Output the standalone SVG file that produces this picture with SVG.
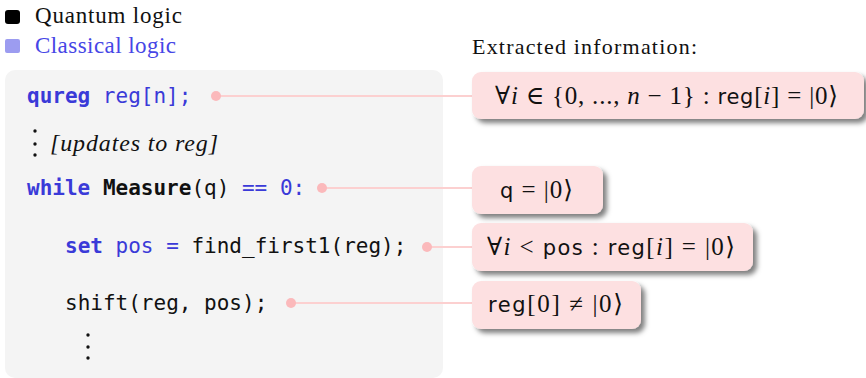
<svg xmlns="http://www.w3.org/2000/svg" width="866" height="378" viewBox="0 0 866 378">
<defs>
<filter id="sh" x="-10%" y="-20%" width="130%" height="160%">
<feDropShadow dx="4" dy="4" stdDeviation="2.5" flood-color="#000" flood-opacity="0.5"/>
</filter>
<style>
.code{font-family:"DejaVu Sans Mono","Liberation Mono",monospace;font-size:21px;fill:#111;}
.kw{fill:#3a3ad8;font-weight:bold;}
.bl{fill:#3a3ad8;}
.b{font-weight:bold;}
.serif{font-family:"Liberation Serif","DejaVu Serif",serif;}
.math{font-family:"Liberation Serif","DejaVu Serif",serif;font-size:25px;fill:#111;}
.sans{font-family:"DejaVu Sans","Liberation Sans",sans-serif;font-size:21px;}
.it{font-style:italic;}
.box{fill:#fde0e1;filter:url(#sh);}
.conn{stroke:#fcd0d0;stroke-width:2;fill:none;}
.dot{fill:#fbb9bb;}
</style>
</defs>
<rect width="866" height="378" fill="#fff"/>
<g id="legend">
<rect x="5" y="10" width="15" height="14" rx="3" fill="#000"/>
<text x="35" y="23" class="serif" font-size="23" fill="#111" textLength="147">Quantum logic</text>
<rect x="5" y="39" width="15" height="14" rx="2" fill="#9c9cf0"/>
<text x="35" y="53" class="serif" font-size="23" fill="#4646e6" textLength="141">Classical logic</text>
</g>
<text x="472" y="54" class="serif" font-size="22" fill="#111" textLength="225">Extracted information:</text>
<g id="code">
<rect x="5" y="70" width="438" height="308" rx="10" fill="#f4f4f4"/>
<text x="27" y="103" class="code"><tspan class="kw">qureg</tspan><tspan class="bl"> reg[n];</tspan></text>
<circle cx="35" cy="131" r="1.7" fill="#111"/>
<circle cx="35" cy="144" r="1.7" fill="#111"/>
<circle cx="35" cy="155" r="1.7" fill="#111"/>
<text x="50" y="151" class="serif it" font-size="24" fill="#111" textLength="168">[updates to reg]</text>
<text x="27" y="195" class="code"><tspan class="kw">while</tspan> <tspan class="b">Measure</tspan>(q) <tspan class="bl">== 0:</tspan></text>
<text x="65" y="253" class="code"><tspan class="kw">set</tspan><tspan class="bl"> pos =</tspan> find_first1(reg);</text>
<text x="65" y="310" class="code">shift(reg, pos);</text>
<circle cx="88" cy="335" r="1.7" fill="#111"/>
<circle cx="88" cy="347" r="1.7" fill="#111"/>
<circle cx="88" cy="358" r="1.7" fill="#111"/>
</g>
<g id="connectors">
<line class="conn" x1="216" y1="96" x2="473" y2="96"/>
<line class="conn" x1="322" y1="188" x2="473" y2="188"/>
<line class="conn" x1="427" y1="247" x2="473" y2="247"/>
<line class="conn" x1="291" y1="303" x2="473" y2="303"/>
<circle class="dot" cx="216" cy="96" r="5"/>
<circle class="dot" cx="322" cy="188" r="5"/>
<circle class="dot" cx="427" cy="247" r="5"/>
<circle class="dot" cx="291" cy="303" r="5"/>
</g>
<g id="info1">
<rect class="box" x="472" y="72" width="392" height="47" rx="9"/>
<text x="666.5" y="104" text-anchor="middle" class="math" textLength="343">∀<tspan class="it">i</tspan> ∈ {0, ..., <tspan class="it">n</tspan> − 1} : <tspan class="sans">reg</tspan>[<tspan class="it">i</tspan>] = |0⟩</text>
</g>
<g id="info2">
<rect class="box" x="472" y="166" width="131" height="48" rx="9"/>
<text x="536.5" y="198" text-anchor="middle" class="math" textLength="73"><tspan class="sans">q</tspan> = |0⟩</text>
</g>
<g id="info3">
<rect class="box" x="472" y="223" width="281" height="48" rx="9"/>
<text x="611" y="255" text-anchor="middle" class="math" textLength="248">∀<tspan class="it">i</tspan> &lt; <tspan class="sans">pos</tspan> : <tspan class="sans">reg</tspan>[<tspan class="it">i</tspan>] = |0⟩</text>
</g>
<g id="info4">
<rect class="box" x="472" y="281" width="169" height="48" rx="9"/>
<text x="555.5" y="312" text-anchor="middle" class="math" textLength="135"><tspan class="sans">reg</tspan>[0] ≠ |0⟩</text>
</g>
</svg>
